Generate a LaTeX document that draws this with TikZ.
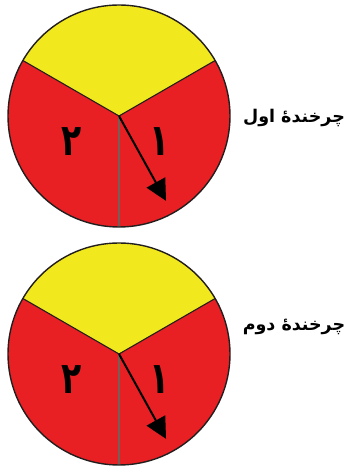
\documentclass[tikz,border=0pt]{standalone}
\usepackage{fontspec}
\newfontfamily\arabicfont[Script=Arabic]{DejaVu Sans}
\TeXXeTstate=1
\usetikzlibrary{arrows.meta}
\definecolor{spinyellow}{RGB}{242,232,30}
\definecolor{spinred}{RGB}{232,32,36}
\definecolor{divline}{RGB}{115,95,85}
\definecolor{rimline}{RGB}{35,30,30}
\newcommand{\tallglyph}[1]{\scalebox{0.75}[1.0]{#1}}
\begin{document}
\begin{tikzpicture}[x=1pt,y=1pt,
  rim/.style={draw=rimline,line width=1.4pt},
  divider/.style={draw=rimline,line width=1.1pt},
  downline/.style={draw=divline,line width=1.6pt},
  digit/.style={font=\arabicfont\bfseries\fontsize{44}{46}\selectfont,text=black},
  pointer/.style={draw=black,line width=2pt,-{Triangle[length=21pt,width=21pt]}},
  caption/.style={font=\arabicfont\bfseries\fontsize{17.5}{20}\selectfont,text=black}]
\useasboundingbox (0,0) rectangle (347,468);
\foreach \cy/\nm in {352/a,114/b}{
  \begin{scope}[shift={(119,\cy)}]
    \coordinate (c\nm) at (0,0);
    \fill[spinyellow] (c\nm) -- (30:111) arc[start angle=30,end angle=150,radius=111] -- cycle;
    \fill[spinred] (c\nm) -- (150:111) arc[start angle=150,end angle=390,radius=111] -- cycle;
    \draw[divider] (c\nm) -- (30:111);
    \draw[divider] (c\nm) -- (150:111);
    \draw[downline] (c\nm) -- (270:111);
    \draw[rim] (c\nm) circle[radius=111];
    \node[digit] (two\nm) at (-47,-26) {\tallglyph{۲}};
    \node[digit] (one\nm) at (41,-26) {\tallglyph{۱}};
    \coordinate (tip\nm) at (-61:97);
    \draw[pointer] (c\nm) -- (tip\nm);
  \end{scope}
}
\node[caption] (cap1) at (294,350) {\beginR چرخندهٔ اول\endR};
\node[caption] (cap2) at (294,141) {\beginR چرخندهٔ دوم\endR};
\end{tikzpicture}
\end{document}
